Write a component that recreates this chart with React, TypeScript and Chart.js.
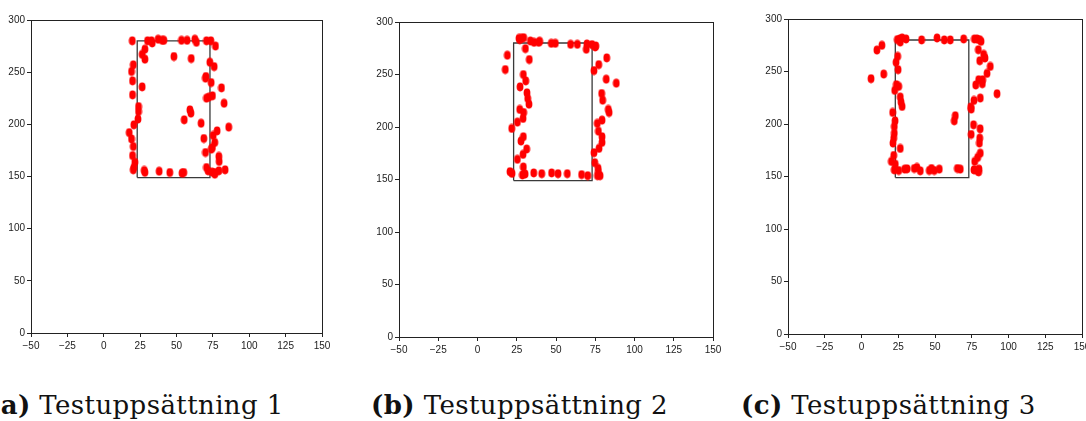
import React, { useEffect, useRef } from 'react';
import { Chart, registerables } from 'chart.js';
Chart.register(...registerables);

const xTicks = [-50, -25, 0, 25, 50, 75, 100, 125, 150];
const yTicks = [0, 50, 100, 150, 200, 250, 300];
const rectX = [23, 73, 73, 23, 23];
const rectY = [149, 149, 280, 280, 149];

const set1X = [19.6, 30.1, 32.8, 33.3, 37.4, 40.2, 41.3, 53.4, 57.3, 62.6, 63.7, 70.6, 73.6, 76.8,
  28.3, 26.4, 28.3, 48.2, 60.1, 72.9, 75.9, 20.3, 19.1, 19.8, 69.9, 70.2, 73.8, 26.4, 80.9, 19.8,
  70.6, 72.2, 74.7, 82.7, 23.9, 23.9, 23.5, 20.7, 17.5, 19.1, 20.3, 19.8, 21.4, 20.3, 20.7,
  55.3, 59.2, 59.9, 66.9, 68.8, 85.9, 77.9, 75.2, 76.3, 74.7, 74.0, 69.9, 79.1, 79.3, 70.6,
  27.8, 28.3, 38.1, 45.4, 53.8, 55.0, 71.7, 74.5, 76.3, 79.1, 83.4, 76.3];
const set1Y = [280, 280, 280, 278, 281.5, 280.5, 280.5, 280.5, 280.5, 281.5, 278.6, 280, 280, 275,
  272, 267, 262.4, 265, 263, 259.5, 255.3, 257, 250.6, 241.6, 244.2, 245.8, 240, 235.9, 234.9, 228.2,
  225, 226, 227.3, 220.2, 217, 212.3, 205, 199.5, 192, 186, 178.7, 170, 163.7, 156.4, 158.6,
  204.3, 213.8, 210.7, 201, 186.4, 197.3, 193.7, 189.3, 182.6, 177.8, 176.2, 173, 169.2, 164.4, 158.6,
  155.8, 154, 155, 153.8, 153.2, 153.8, 155.4, 154.2, 153.8, 155.4, 156.4, 152.2];

const set2X = [26.4, 27.9, 29.4, 26.9, 33.7, 36.0, 39.0, 39.6, 47.0, 49.6, 59.3, 63.6, 69.7, 69.3, 72.9, 75.0,
  30.5, 19.0, 33.0, 17.7, 29.2, 30.7, 27.1, 31.5, 32.0, 32.8, 26.9, 29.4, 29.0, 25.4, 21.8, 29.2, 27.7,
  31.3, 29.0, 25.4, 29.2, 20.7, 22.0, 28.6, 30.3, 35.8, 40.9, 47.2, 51.3, 57.2, 66.3, 70.2, 77.0, 78.1,
  76.4, 76.8, 74.7, 74.2, 77.4, 79.3, 79.3, 77.0, 76.3, 79.3, 83.3, 83.8, 79.7, 79.1, 82.0, 88.4, 74.2,
  77.2, 82.3, 75.3];
const set2Y = [284.4, 284.4, 285, 283.2, 281.9, 280.6, 280.6, 281.6, 279.7, 279.7, 278.7, 278.7, 279, 274, 278.4, 276.2,
  274.6, 268.3, 264.2, 254.7, 249.9, 243.9, 238.2, 232.5, 227.1, 221.7, 216.7, 213.8, 208.1, 204.6, 198.6, 190.7, 186.6,
  179, 173.9, 169.2, 161.9, 157.4, 155.8, 154.3, 155.2, 156.2, 155.5, 156.2, 155.5, 155.5, 154.6, 153.6, 157.1, 153.6,
  153.6, 160.6, 166, 175.5, 179.6, 185.3, 190.7, 196, 203.4, 206.5, 216.7, 213.8, 225.5, 231.9, 245.5, 241.7, 253.7,
  259.4, 265.8, 277.2];

const set3X = [24.4, 26.0, 27.6, 26.4, 30.3, 40.9, 51.4, 56.3, 60.4, 69.5, 76.8, 78.6, 80.2, 81.3, 13.9, 10.5,
  79.5, 83.1, 84.0, 80.4, 87.6, 85.4, 82.4, 79.7, 82.2, 77.7, 92.2, 80.8, 76.5, 74.3, 74.7,
  24.6, 23.5, 24.9, 6.5, 15.1, 23.7, 25.3, 22.6, 26.4, 26.9, 27.6, 21.2, 22.8, 22.3, 22.3, 21.9, 21.4,
  26.4, 21.9, 20.3, 23.0, 22.3, 25.3, 29.4, 31.0, 35.9, 37.7, 40.0, 46.1, 47.6, 49.5, 52.9, 65.2, 67.2,
  63.8, 63.1, 76.2, 74.6, 80.7, 80.4, 80.2, 80.8, 79.0, 77.0, 76.5, 78.6, 79.9, 79.7];
const set3Y = [280.3, 280.9, 281.9, 278, 280.9, 280, 281.9, 280, 280, 280.9, 280.9, 280.9, 280.3, 278.7, 274.9, 270.4,
  270.7, 266.3, 262.8, 260.2, 254.8, 248.2, 242.1, 242.1, 238.3, 237.1, 228.8, 224.7, 222.4, 216.1, 214.2,
  264.4, 258.7, 251.7, 243.1, 247.5, 237.4, 235.8, 232, 225.6, 220.8, 216.7, 211, 203, 197.6, 191.3, 186.5, 181.8,
  176.7, 170, 164.3, 161.7, 156.3, 155.7, 157, 157.3, 157.6, 158.6, 155.4, 155.7, 157.6, 155.7, 157, 157.6, 157,
  207.8, 203, 199.2, 190, 195.4, 186.5, 181.8, 172.2, 168.1, 164.3, 156.3, 155.7, 157, 154.4];

const captionLabels = ['(a)', '(b)', '(c)'];
const captionTexts = ['Testuppsättning 1', 'Testuppsättning 2', 'Testuppsättning 3'];

const panels = [
  { xs: set1X, ys: set1Y, left: 0, top: 0, w: 340, h: 360, aL: 31, aT: 20, aR: 322, aB: 333, capLeft: -12 },
  { xs: set2X, ys: set2Y, left: 370, top: 0, w: 360, h: 360, aL: 29, aT: 22, aR: 343, aB: 337, capLeft: 371 },
  { xs: set3X, ys: set3Y, left: 760, top: 0, w: 345, h: 360, aL: 28, aT: 19, aR: 322, aB: 334, capLeft: 741 },
];

function makeDot() {
  const c = document.createElement('canvas');
  c.width = 8; c.height = 10;
  const ctx = c.getContext('2d')!;
  ctx.fillStyle = '#ff0000';
  ctx.beginPath();
  ctx.ellipse(4, 5, 3.4, 4.4, 0, 0, Math.PI * 2);
  ctx.fill();
  return c;
}

const framePlugin = {
  id: 'frame',
  afterDraw(chart: any) {
    const a = chart.chartArea;
    const ctx = chart.ctx;
    ctx.save();
    ctx.strokeStyle = '#222';
    ctx.lineWidth = 1;
    ctx.strokeRect(Math.round(a.left) + 0.5, Math.round(a.top) + 0.5, Math.round(a.right - a.left), Math.round(a.bottom - a.top));
    ctx.restore();
  },
};

const tickFont = { family: '"Liberation Sans Narrow", "Liberation Sans", sans-serif', size: 10 };

function Panel({ p }: { p: any }) {
  const ref = useRef<HTMLCanvasElement>(null);
  useEffect(() => {
    const dot = makeDot();
    const chart = new Chart(ref.current!, {
      type: 'scatter',
      data: {
        datasets: [
          {
            data: p.xs.map((x: number, i: number) => ({ x, y: p.ys[i] })),
            pointStyle: dot as any,
            pointRadius: 4,
            showLine: false,
            order: 1,
          },
          {
            data: rectX.map((x, i) => ({ x, y: rectY[i] })),
            showLine: true,
            borderColor: '#3a3a3a',
            borderWidth: 1.3,
            pointRadius: 0,
            fill: false,
            order: 2,
          } as any,
        ],
      },
      options: {
        animation: false,
        responsive: false,
        layout: { padding: { left: 0, top: p.aT, right: p.w - p.aR, bottom: 0 } },
        plugins: { legend: { display: false }, tooltip: { enabled: false } },
        scales: {
          x: {
            type: 'linear', min: -50, max: 150,
            afterBuildTicks: (s: any) => { s.ticks = xTicks.map((v) => ({ value: v })); },
            afterFit: (s: any) => { s.height = p.h - p.aB; },
            grid: { drawOnChartArea: false, drawTicks: true, tickLength: 4, color: '#222' },
            border: { color: '#222', width: 1 },
            ticks: {
              font: tickFont, color: '#222', padding: 3, maxRotation: 0, autoSkip: false,
              callback: (v: any) => String(v).replace('-', '\u2212'),
            },
          },
          y: {
            type: 'linear', min: 0, max: 300,
            afterBuildTicks: (s: any) => { s.ticks = yTicks.map((v) => ({ value: v })); },
            afterFit: (s: any) => { s.width = p.aL; },
            grid: { drawOnChartArea: false, drawTicks: true, tickLength: 4, color: '#222' },
            border: { color: '#222', width: 1 },
            ticks: { font: tickFont, color: '#222', padding: 2, autoSkip: false },
          },
        },
      } as any,
      plugins: [framePlugin],
    });
    return () => chart.destroy();
  }, []);
  return (
    <canvas
      ref={ref}
      width={p.w}
      height={p.h}
      style={{ position: 'absolute', left: p.left, top: p.top, width: p.w, height: p.h }}
    />
  );
}

export default function App() {
  return (
    <div style={{ position: 'fixed', left: 0, top: 0, width: 1086, height: 421, overflow: 'hidden', background: '#fff' }}>
      {panels.map((p, i) => (
        <Panel key={i} p={p} />
      ))}
      {panels.map((p, i) => (
        <div
          key={'c' + i}
          style={{
            position: 'absolute', left: p.capLeft, top: 391, whiteSpace: 'nowrap',
            fontFamily: '"DejaVu Serif", serif', fontSize: 26, lineHeight: '28px', color: '#111',
            letterSpacing: '0.4px',
          }}
        >
          <b>{captionLabels[i]}</b> {captionTexts[i]}
        </div>
      ))}
    </div>
  );
}
